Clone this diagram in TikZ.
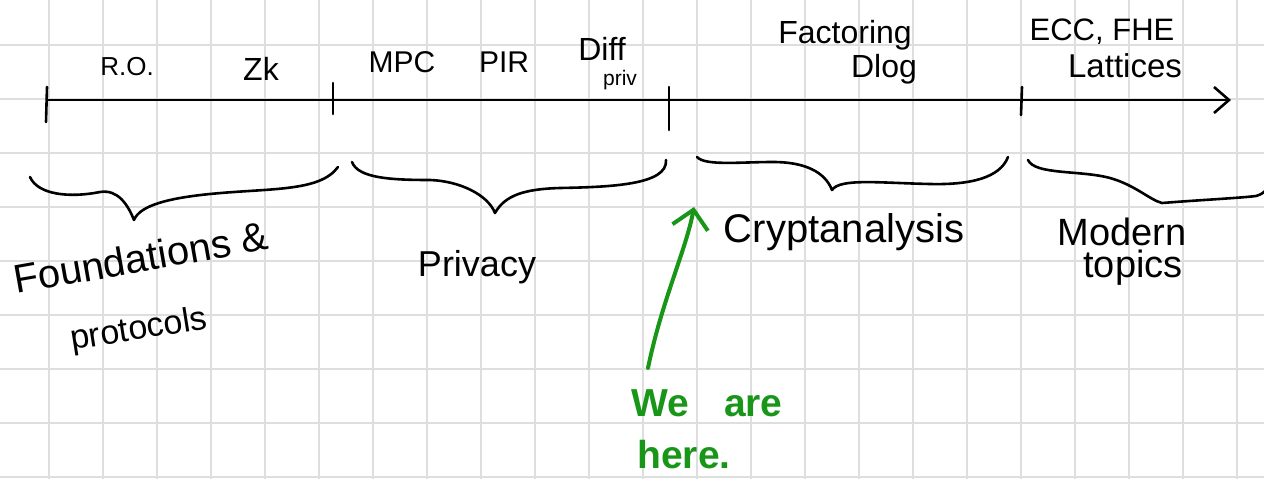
\documentclass[tikz,border=0pt]{standalone}
\usepackage{fontspec}
\setmainfont{Liberation Sans}
\usetikzlibrary{arrows.meta}
\definecolor{gridgray}{RGB}{222,222,222}
\definecolor{pengreen}{RGB}{24,150,24}
\begin{document}
\begin{tikzpicture}[x=1pt,y=-1pt,
  gridline/.style={draw=gridgray,line width=1.6pt},
  ink/.style={draw=black,line width=2.6pt,line cap=round,line join=round},
  greenink/.style={draw=pengreen,line width=4pt,line cap=round,line join=round},
  lbl/.style={inner sep=0pt,anchor=base,text=black},
  glbl/.style={inner sep=0pt,anchor=base,text=pengreen,font=\bfseries\fontsize{39}{41}\selectfont}
]
\useasboundingbox (0,0) rectangle (1264,479);
\fill[white] (0,0) rectangle (1264,479);
% grid
\foreach \gx in {0,...,22} \draw[gridline] (49+54*\gx,0) -- (49+54*\gx,479);
\foreach \gy in {0,...,8} \draw[gridline] (0,45+54*\gy) -- (1264,45+54*\gy);

% axis
\coordinate (axstart) at (47,100);
\coordinate (axend) at (1231,100);
\draw[ink,-{Straight Barb[length=15pt,width=26pt]}] (axstart) -- (axend);
% ticks
\coordinate (t1a) at (47,87);  \coordinate (t1b) at (46,122);
\coordinate (t2a) at (333,83); \coordinate (t2b) at (333,114);
\coordinate (t3a) at (669,87); \coordinate (t3b) at (669,130);
\coordinate (t4a) at (1022,87); \coordinate (t4b) at (1021,115);
\draw[ink] (t1a) -- (t1b);
\draw[ink] (t2a) -- (t2b);
\draw[ink] (t3a) -- (t3b);
\draw[ink] (t4a) -- (t4b);

% labels above axis
\node[lbl,font=\fontsize{26}{28}\selectfont] (ro) at (127,75) {R.O.};
\node[lbl,font=\fontsize{32}{34}\selectfont] (zk) at (261,80) {Zk};
\node[lbl,font=\fontsize{30}{32}\selectfont] (mpc) at (402,72) {MPC};
\node[lbl,font=\fontsize{30}{32}\selectfont] (pir) at (504,72) {PIR};
\node[lbl,font=\fontsize{32}{34}\selectfont] (diff) at (602,60) {Diff};
\node[lbl,font=\fontsize{21}{23}\selectfont] (priv) at (620,85) {priv};
\node[lbl,font=\fontsize{32}{34}\selectfont] (fact) at (845,43) {Factoring};
\node[lbl,font=\fontsize{32}{34}\selectfont] (dlog) at (884,77) {Dlog};
\node[lbl,font=\fontsize{31}{33}\selectfont] (ecc) at (1102,40) {ECC, FHE};
\node[lbl,font=\fontsize{33}{35}\selectfont] (latt) at (1125,77) {Lattices};

% braces
\draw[ink] (30,177) .. controls (38,195) and (70,198) .. (100,192)
  .. controls (118,189) and (128,205) .. (134,220)
  .. controls (140,205) and (170,198) .. (210,194)
  .. controls (270,188) and (320,192) .. (338,167);
\draw[ink] (352,162) .. controls (358,178) and (390,180) .. (430,180)
  .. controls (460,181) and (488,195) .. (495,213)
  .. controls (505,195) and (525,189) .. (560,188)
  .. controls (610,187) and (668,185) .. (666,160);
\draw[ink] (697,157) .. controls (705,166) and (740,162) .. (773,162)
  .. controls (805,162) and (825,172) .. (832,190)
  .. controls (840,178) and (880,183) .. (930,184)
  .. controls (970,185) and (1000,178) .. (1008,157);
\draw[ink] (1028,160) .. controls (1035,175) and (1080,170) .. (1110,178)
  .. controls (1135,185) and (1150,200) .. (1162,203)
  .. controls (1200,200) and (1240,198) .. (1256,196)
  .. controls (1262,194) .. (1268,188);

% labels below
\node[lbl,anchor=base west,rotate=10,font=\fontsize{40}{42}\selectfont] (found) at (16,294) {Foundations \&};
\node[lbl,anchor=base west,rotate=9,font=\fontsize{34}{36}\selectfont] (prot) at (72,350) {protocols};
\node[lbl,font=\fontsize{36}{38}\selectfont] (priva) at (477,276) {Privacy};
\node[lbl,font=\fontsize{40}{42}\selectfont] (crypt) at (844,242) {Cryptanalysis};
\node[lbl,font=\fontsize{38}{40}\selectfont] (modern) at (1122,245) {Modern};
\node[lbl,font=\fontsize{38}{40}\selectfont] (topics) at (1133,277) {topics};

% we are here
\node[glbl] (weare) at (707,416) {We\hspace{0.9em}are};
\node[glbl] (here) at (684,468) {here.};
\coordinate (arrowstart) at (648,368);
\coordinate (arrowtip) at (694,207);
\draw[greenink,-{Straight Barb[length=18pt,width=36pt]}] (arrowstart) .. controls (662,300) and (686,250) .. (arrowtip);
\end{tikzpicture}
\end{document}
